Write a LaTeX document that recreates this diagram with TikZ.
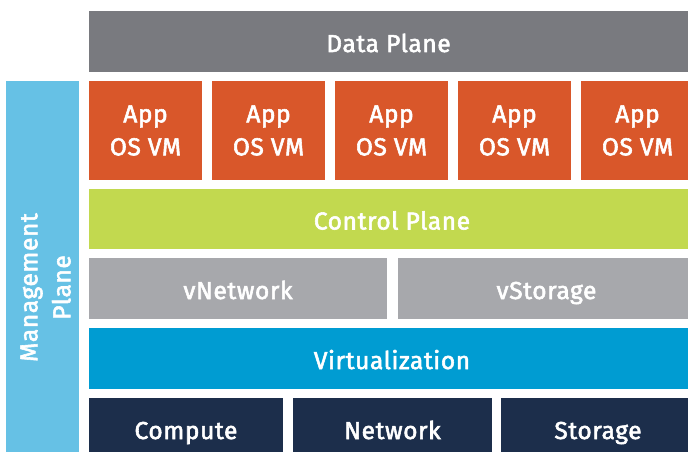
\documentclass[tikz,border=0pt]{standalone}
\usepackage{fontspec}
\newfontfamily\layerfont{Fira Sans}[FakeBold=2.3,LetterSpace=2.5]
\usepackage{tikz}
\definecolor{dataplanegray}{HTML}{797A7F}
\definecolor{apporange}{HTML}{D9572A}
\definecolor{controlgreen}{HTML}{C2D94F}
\definecolor{virtgray}{HTML}{A7A8AC}
\definecolor{virtblue}{HTML}{009CD2}
\definecolor{hwnavy}{HTML}{1C2E4B}
\definecolor{mgmtblue}{HTML}{66C1E5}

\begin{document}
\begin{tikzpicture}[x=1pt,y=-1pt]
\tikzstyle{every node}+=[inner sep=0pt,outer sep=0pt,text=white,font=\layerfont\fontsize{24.5}{33}\selectfont]
\tikzstyle{layer}=[rectangle,anchor=north west,text height=21pt,text depth=0pt]
\tikzstyle{vmbox}=[rectangle,anchor=north west,align=center,fill=apporange,minimum width=113pt,minimum height=99pt]
\useasboundingbox (0,0) rectangle (688,452);
\clip (0,0) rectangle (688,452);
\node [layer,fill=dataplanegray,minimum width=599pt,minimum height=61pt] (data) at (89,11) {Data Plane};
\node [vmbox] (vm1) at (89,81) {App\\OS VM};
\node [vmbox] (vm2) at (212,81) {App\\OS VM};
\node [vmbox] (vm3) at (335,81) {App\\OS VM};
\node [vmbox] (vm4) at (458,81) {App\\OS VM};
\node [vmbox] (vm5) at (581,81) {App\\OS VM};
\node [layer,fill=controlgreen,minimum width=606pt,minimum height=60pt] (control) at (89,189) {Control Plane};
\node [layer,fill=virtgray,minimum width=298pt,minimum height=61pt] (vnet) at (89,258) {vNetwork};
\node [layer,fill=virtgray,minimum width=297pt,minimum height=61pt] (vstor) at (398,258) {vStorage};
\node [layer,fill=virtblue,minimum width=606pt,minimum height=61pt] (virt) at (89,328) {Virtualization};
\node [layer,fill=hwnavy,minimum width=194pt,minimum height=61pt] (compute) at (89,398) {Compute};
\node [layer,fill=hwnavy,minimum width=199pt,minimum height=61pt] (network) at (293,398) {Network};
\node [layer,fill=hwnavy,minimum width=194pt,minimum height=61pt] (storage) at (501,398) {Storage};
\node [rectangle,anchor=north west,fill=mgmtblue,minimum width=73pt,minimum height=378pt] (mgmt) at (6,81) {};
\node [rotate=90,align=center] (mgmtlabel) at (45.5,287.5) {Management\\Plane};
\end{tikzpicture}
\end{document}
